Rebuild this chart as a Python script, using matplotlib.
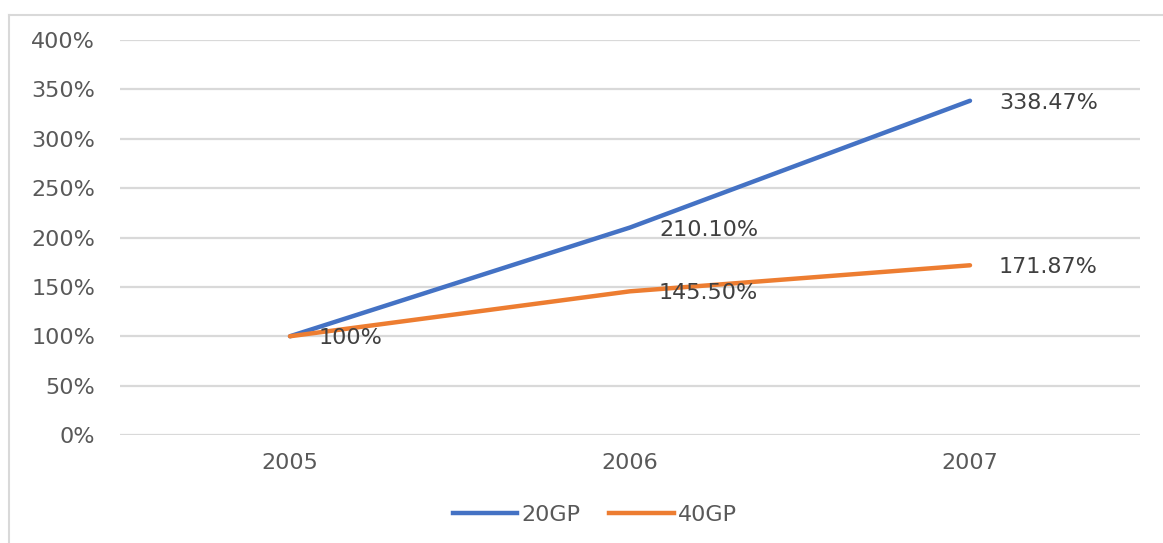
import matplotlib.pyplot as plt
from matplotlib.lines import Line2D
import numpy as np

years = ["2005", "2006", "2007"]
gp20 = [100, 210.10, 338.47]
gp40 = [100, 145.50, 171.87]
labels20 = ["100%", "210.10%", "338.47%"]
labels40 = ["", "145.50%", "171.87%"]

W, H = 1163, 543
fig = plt.figure(figsize=(W / 100, H / 100), dpi=100)
ax = fig.add_axes([120 / W, 1 - 435 / H, 1020 / W, 395 / H])

x = np.arange(len(years))
blue = "#4472C4"
orange = "#ED7D31"
ax.plot(x, gp20, color=blue, lw=3.2, solid_capstyle="round", label="20GP", zorder=3)
ax.plot(x, gp40, color=orange, lw=3.2, solid_capstyle="round", label="40GP", zorder=3)

for xi, v, t in zip(x, gp20, labels20):
    if t:
        ax.annotate(t, (xi, v), xytext=(29, -2), textcoords="offset pixels",
                    ha="left", va="center", fontsize=16, color="#404040")
for xi, v, t in zip(x, gp40, labels40):
    if t:
        ax.annotate(t, (xi, v), xytext=(29, -2), textcoords="offset pixels",
                    ha="left", va="center", fontsize=16, color="#404040")

ax.set_xlim(-0.5, 2.5)
ax.set_ylim(0, 400)
ax.set_yticks(np.arange(0, 401, 50))
ax.set_yticklabels([f"{v}%" for v in range(0, 401, 50)])
ax.set_xticks(x)
ax.set_xticklabels(years)
ax.grid(axis="y", color="#D9D9D9", lw=1.6)
ax.set_axisbelow(True)
for s in ax.spines.values():
    s.set_visible(False)
ax.tick_params(length=0, labelsize=16, colors="#595959")
ax.tick_params(axis="y", pad=18)
ax.tick_params(axis="x", pad=13)

handles = [Line2D([], [], color=blue, lw=3.2), Line2D([], [], color=orange, lw=3.2)]
fig.legend(handles, ["20GP", "40GP"], loc="center", bbox_to_anchor=(595 / W, 1 - 515 / H),
           ncol=2, frameon=False, fontsize=16, handlelength=2.9, columnspacing=1.3,
           handletextpad=0.2, labelcolor="#595959")

# outer chart border (only top and left visible in the crop)
fig.add_artist(Line2D([9 / W, 1], [1 - 15 / H, 1 - 15 / H], color="#D9D9D9", lw=1.5))
fig.add_artist(Line2D([9 / W, 9 / W], [0, 1 - 15 / H], color="#D9D9D9", lw=1.5))

fig.savefig("out.png", dpi=100)
